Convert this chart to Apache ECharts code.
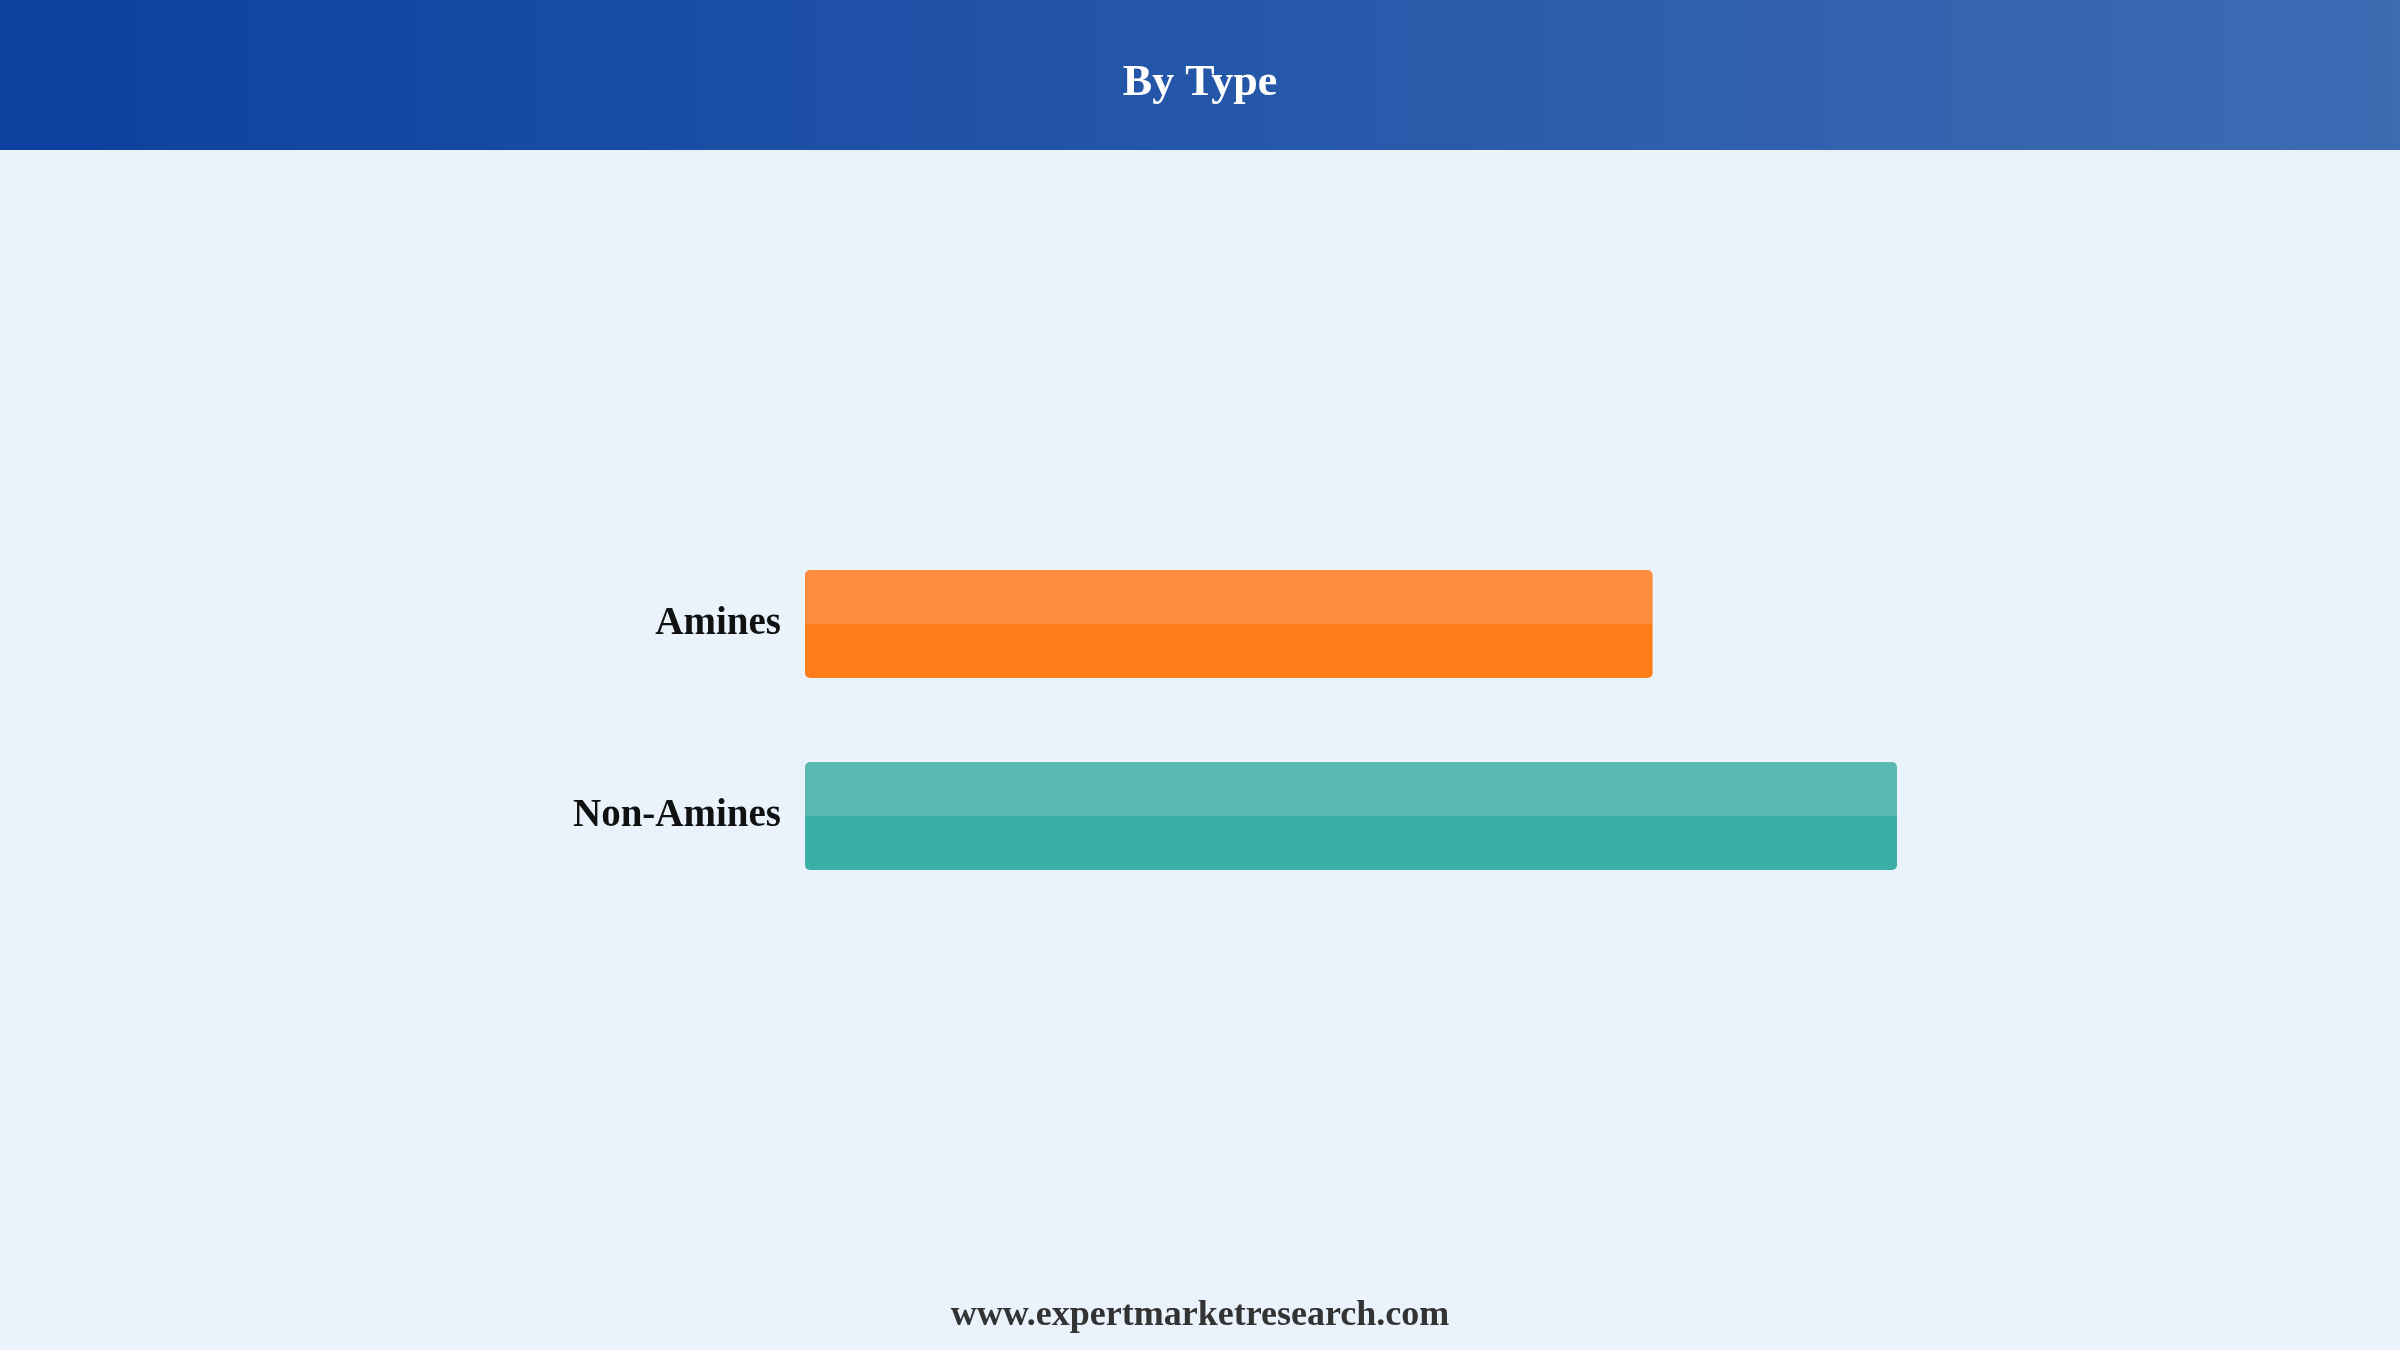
<!DOCTYPE html>
<html>
<head>
<meta charset="utf-8">
<script src="https://cdn.jsdelivr.net/npm/echarts@6/dist/echarts.min.js"></script>
<style>
html,body{margin:0;padding:0;background:#eaf2fc;}
#chart{width:2400px;height:1350px;}
</style>
</head>
<body>
<div id="chart"></div>
<script>
const chartTitle = 'By Type';
const footerText = 'www.expertmarketresearch.com';
const categories = ['Amines', 'Non-Amines'];
const values = [43.7, 56.3];
const topColors = ['#ff8d3f', '#5bb9b1'];
const bottomColors = ['#ff7c1b', '#3aafa6'];

const serif = '"Liberation Serif", "Times New Roman", serif';

function split(top, bottom) {
  return new echarts.graphic.LinearGradient(0, 0, 0, 1, [
    { offset: 0, color: top },
    { offset: 0.5, color: top },
    { offset: 0.5, color: bottom },
    { offset: 1, color: bottom }
  ]);
}

const chart = echarts.init(document.getElementById('chart'));
chart.setOption({
  backgroundColor: '#eaf2fc',
  animation: false,
  graphic: [{
    type: 'rect',
    left: 0, top: 0, z: 0,
    shape: { width: 2400, height: 150 },
    style: {
      fill: new echarts.graphic.LinearGradient(0, 0, 1, 0, [
        { offset: 0, color: '#0b419f' },
        { offset: 1, color: '#3e6cb3' }
      ])
    }
  }],
  title: [{
    text: chartTitle,
    left: 'center',
    top: 62,
    padding: 0,
    textStyle: { color: '#ffffff', fontSize: 44, fontWeight: 'bold', fontFamily: serif }
  }, {
    text: footerText,
    left: 'center',
    top: 1298,
    padding: 0,
    textStyle: { color: '#333333', fontSize: 36, fontWeight: 'bold', fontFamily: serif }
  }],
  grid: { left: 805, right: 503, top: 528, height: 384, containLabel: false },
  xAxis: { type: 'value', min: 0, max: 'dataMax', show: false },
  yAxis: {
    type: 'category',
    data: categories,
    inverse: true,
    axisLine: { show: false },
    axisTick: { show: false },
    axisLabel: { margin: 24, color: '#111111', fontSize: 39, fontWeight: 'bold', fontFamily: serif }
  },
  series: [{
    type: 'bar',
    barWidth: 108,
    data: values.map((v, i) => ({
      value: v,
      itemStyle: { color: split(topColors[i], bottomColors[i]), borderRadius: 5 }
    }))
  }]
});
</script>
</body>
</html>
